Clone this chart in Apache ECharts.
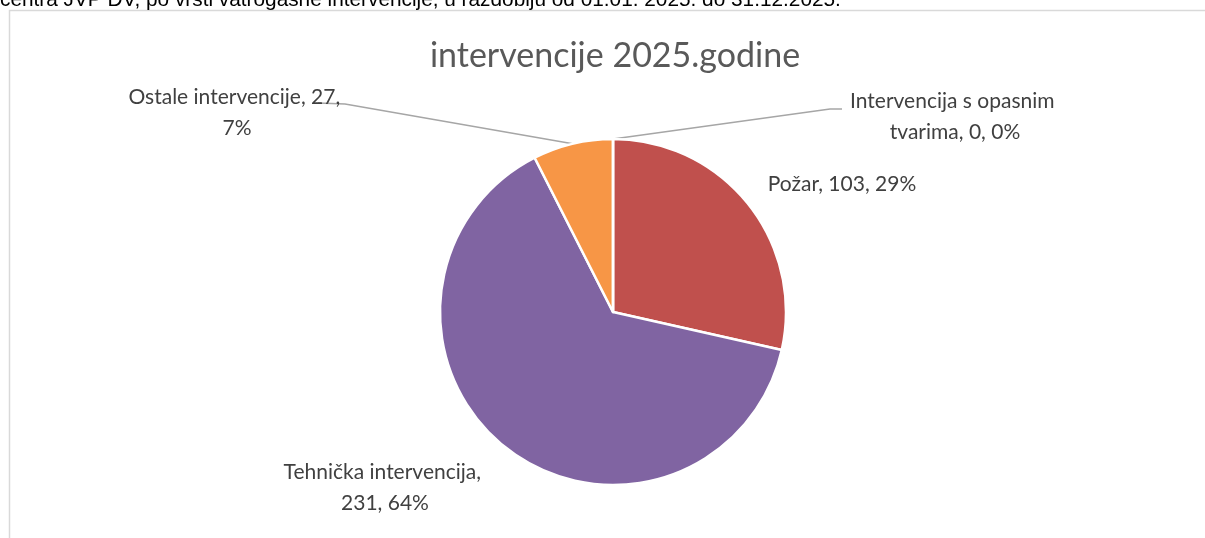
<!DOCTYPE html>
<html>
<head>
<meta charset="utf-8" />
<title>intervencije 2025.godine</title>
<script src="https://cdn.jsdelivr.net/npm/echarts@6/dist/echarts.min.js"></script>
</head>
<body style="margin: 0; background: #fff">
<div id="container" style="width: 1205px; height: 538px"></div>
<script>
var categories = ['Požar', 'Tehnička intervencija', 'Ostale intervencije', 'Intervencija s opasnim tvarima'];
var counts = [103, 231, 27, 0];
var colors = ['#C0504D', '#8064A2', '#F79646', '#9BBB59'];
var chartTitle = 'intervencije 2025.godine';
var caption = 'centra JVP DV, po vrsti vatrogasne intervencije, u razdoblju od 01.01. 2025. do 31.12.2025.';

// where each label sits, and the bends of the leader lines (Excel style)
var labelSpots = [
    { x: 842, y: 184 },
    { x: 385, y: 488 },
    { x: 237, y: 113, bend: [[345, 104], [318, 103]] },
    { x: 955, y: 117, bend: [[830, 109], [842, 109]] }
];

var myChart = echarts.init(document.getElementById('container'));

var option = {
    animation: false,
    color: colors,
    title: {
        text: chartTitle,
        left: 610,
        top: 34,
        textAlign: 'center',
        textStyle: { fontFamily: 'Lato', fontSize: 34, fontWeight: 'normal', color: '#595959' }
    },
    graphic: [
        {
            type: 'rect', silent: true,
            shape: { x: 9.5, y: 10.5, width: 1300, height: 700 },
            style: { fill: 'none', stroke: '#D9D9D9', lineWidth: 1.5 }
        },
        {
            type: 'text', silent: true, x: 0, y: 11,
            style: { text: caption, fontFamily: 'Liberation Sans', fontSize: 20.8, fill: '#000', verticalAlign: 'bottom' }
        }
    ],
    series: [{
        type: 'pie',
        center: [613, 312],
        radius: 173,
        startAngle: 90,
        clockwise: true,
        percentPrecision: 0,
        itemStyle: { borderColor: '#fff', borderWidth: 2.5 },
        label: {
            formatter: '{b}, {c}, {d}%',
            fontFamily: 'Lato',
            fontSize: 21,
            color: '#404040',
            lineHeight: 31,
            width: 232,
            overflow: 'break'
        },
        labelLine: { lineStyle: { color: '#A6A6A6', width: 1.5 } },
        labelLayout: function (p) {
            var s = labelSpots[p.dataIndex];
            var out = { x: s.x, y: s.y, align: 'center', verticalAlign: 'middle', hideOverlap: false, moveOverlap: false };
            if (s.bend && p.labelLinePoints) {
                out.labelLinePoints = [p.labelLinePoints[0]].concat(s.bend);
            }
            return out;
        },
        emphasis: { disabled: true },
        data: categories.map(function (name, i) {
            return {
                name: name,
                value: counts[i],
                labelLine: { show: !!labelSpots[i].bend }
            };
        })
    }]
};

myChart.setOption(option);
</script>
</body>
</html>
